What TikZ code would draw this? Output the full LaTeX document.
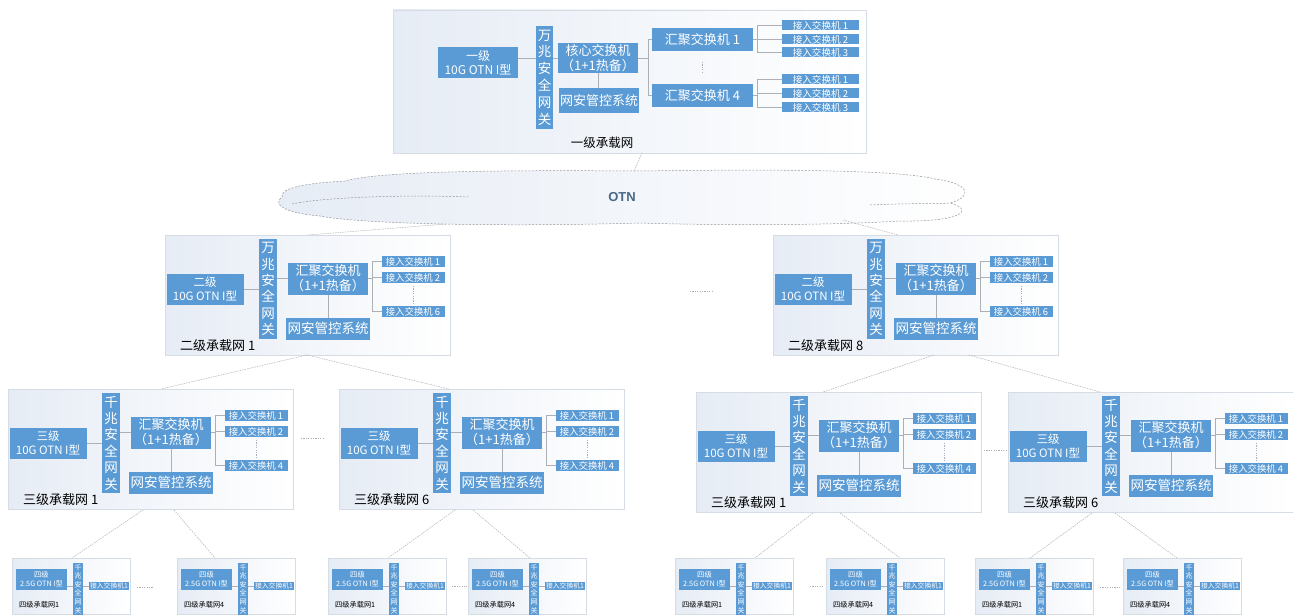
\documentclass[tikz,border=0pt]{standalone}
\usepackage{fontspec}
\setmainfont{Noto Sans CJK SC}
\newfontfamily\latf{Liberation Sans}
\definecolor{bbox}{RGB}{91,155,213}
\definecolor{lnc}{RGB}{172,176,182}
\definecolor{contl}{RGB}{230,236,245}
\definecolor{contb}{RGB}{214,220,228}
\definecolor{otnc}{RGB}{72,104,134}
\newcommand{\fsz}[2]{\fontsize{#1}{#2}\selectfont}
\begin{document}
\begin{tikzpicture}[x=1pt,y=-1pt,
  bx/.style={fill=bbox, text=white, inner sep=0pt, outer sep=0pt, align=center},
  cont/.style={draw=contb, line width=0.6pt, left color=contl, right color=white, inner sep=0pt, outer sep=0pt},
  lk/.style={draw=lnc, line width=0.6pt},
  dl/.style={draw=lnc, line width=0.6pt, dash pattern=on 1.2pt off 1.2pt},
  lvl/.style={draw=lnc, line width=0.5pt, dash pattern=on 1.5pt off 1pt},
  lab/.style={text=black, inner sep=0pt, anchor=west},
  pics/blk/.style n args={4}{code={
    \node[cont, minimum width=285, minimum height=120, anchor=north west] (-c) at (0,0) {};
    \node[bx, minimum width=77, minimum height=31, font=\fsz{11.5}{14}] (-lv) at (40,54) {#1\\10G OTN I型};
    \node[bx, minimum width=18, minimum height=100, font=\fsz{13.5}{16.4}] (-gw) at (103,54) {#2\\兆\\安\\全\\网\\关};
    \node[bx, minimum width=80, minimum height=32, font=\fsz{13}{15}] (-hj) at (163,43.5) {汇聚交换机\\（1+1热备）};
    \node[bx, minimum width=84, minimum height=22, font=\fsz{13.5}{15}] (-wa) at (163,93.5) {网安管控系统};
    \node[bx, minimum width=63, minimum height=11, font=\fsz{9.4}{10}] (-a1) at (248,26.5) {接入交换机 1};
    \node[bx, minimum width=63, minimum height=11, font=\fsz{9.4}{10}] (-a2) at (248,42.5) {接入交换机 2};
    \node[bx, minimum width=63, minimum height=11, font=\fsz{9.4}{10}] (-a3) at (248,76.5) {接入交换机 #3};
    \node[lab, font=\fsz{13}{14}] (-lb) at (15,111) {#4};
    \coordinate (-b1) at (207,26.5);
    \coordinate (-b2) at (207,76.5);
    \draw[lk] (-lv.east) -- (-gw.west);
    \draw[lk] (-gw.east |- -hj.west) -- (-hj.west);
    \draw[lk] (-hj.south) -- (-wa.north);
    \draw[lk] (-hj.east) -- (-b1 |- -hj.east);
    \draw[lk] (-b1) -- (-b2);
    \draw[lk] (-b1) -- (-a1.west);
    \draw[lk] (-b1 |- -a2.west) -- (-a2.west);
    \draw[lk] (-b2) -- (-a3.west);
    \draw[dl] ([yshift=-3pt]-a2.south) -- ([yshift=3pt]-a3.north);
  }},
  pics/lfour/.style={code={
    \node[cont, minimum width=118, minimum height=56, anchor=north west] (-c) at (0,0) {};
    \node[bx, minimum width=51, minimum height=21, font=\fsz{7.3}{9}] (-lv) at (29.5,21.5) {四级\\2.5G OTN I型};
    \node[bx, minimum width=10, minimum height=52, font=\fsz{7}{8.6}] (-gw) at (66,31) {千\\兆\\安\\全\\网\\关};
    \node[bx, minimum width=40, minimum height=8.5, font=\fsz{6.8}{7}] (-a1) at (97,28) {接入交换机1};
    \node[lab, font=\fsz{7.2}{8}] (-lb) at (7,47) {#1};
    \draw[lk] (-lv.east |- -a1.west) -- (-gw.west |- -a1.west);
    \draw[lk] (-gw.east |- -a1.west) -- (-a1.west);
  }}
]
\fill[white] (0,0) rectangle (1293,615);
\useasboundingbox (0,0) rectangle (1293,615);

% ---------- level 1 ----------
\node[cont, minimum width=473, minimum height=143, anchor=north west] (L1) at (393,10) {};
\node[bx, minimum width=80, minimum height=31, font=\fsz{12}{14.5}] (L1lv) at (478,62.5) {一级\\10G OTN I型};
\node[bx, minimum width=17, minimum height=103, font=\fsz{13.5}{16.8}] (L1gw) at (544.5,77.5) {万\\兆\\安\\全\\网\\关};
\node[bx, minimum width=80, minimum height=30, font=\fsz{13}{14.5}] (L1core) at (598,58) {核心交换机\\（1+1热备）};
\node[bx, minimum width=80, minimum height=25, font=\fsz{13}{14}] (L1wa) at (599,100.5) {网安管控系统};
\node[bx, minimum width=101, minimum height=23, font=\fsz{13}{14}] (L1h1) at (702.5,39.5) {汇聚交换机 1};
\node[bx, minimum width=101, minimum height=23, font=\fsz{13}{14}] (L1h4) at (702.5,95.5) {汇聚交换机 4};
\node[bx, minimum width=77, minimum height=10, font=\fsz{9.6}{10}] (L1a1) at (820.5,25.5) {接入交换机 1};
\node[bx, minimum width=77, minimum height=10, font=\fsz{9.6}{10}] (L1a2) at (820.5,39.5) {接入交换机 2};
\node[bx, minimum width=77, minimum height=10, font=\fsz{9.6}{10}] (L1a3) at (820.5,52.5) {接入交换机 3};
\node[bx, minimum width=77, minimum height=10, font=\fsz{9.6}{10}] (L1b1) at (820.5,79.5) {接入交换机 1};
\node[bx, minimum width=77, minimum height=10, font=\fsz{9.6}{10}] (L1b2) at (820.5,93.5) {接入交换机 2};
\node[bx, minimum width=77, minimum height=10, font=\fsz{9.6}{10}] (L1b3) at (820.5,107.5) {接入交换机 3};
\node[text=black, inner sep=0pt, font=\fsz{12.5}{14}] (L1lb) at (602,143) {一级承载网};
\coordinate (L1j) at (648,58);
\coordinate (L1u) at (757,25.5);
\coordinate (L1v) at (757,52.5);
\coordinate (L1w) at (757,79.5);
\coordinate (L1x) at (757,107.5);
\draw[lk] (L1lv.east |- L1core.west) -- (L1gw.west |- L1core.west);
\draw[lk] (L1gw.east |- L1core.west) -- (L1core.west);
\draw[lk] (L1core.south) -- (L1wa.north -| L1core.south);
\draw[lk] (L1core.east) -- (L1j);
\draw[lk] (L1j |- L1h1.west) -- (L1j |- L1h4.west);
\draw[lk] (L1j |- L1h1.west) -- (L1h1.west);
\draw[lk] (L1j |- L1h4.west) -- (L1h4.west);
\draw[dl] ([yshift=-11pt]L1h1.south) -- ([yshift=12pt]L1h4.north);
\draw[lk] (L1u) -- (L1v);
\draw[lk] (L1w) -- (L1x);
\draw[lk] (L1h1.east) -- (L1u |- L1h1.east);
\draw[lk] (L1h4.east) -- (L1w |- L1h4.east);
\draw[lk] (L1u) -- (L1a1.west);
\draw[lk] (L1u |- L1a2.west) -- (L1a2.west);
\draw[lk] (L1v) -- (L1a3.west);
\draw[lk] (L1w) -- (L1b1.west);
\draw[lk] (L1w |- L1b2.west) -- (L1b2.west);
\draw[lk] (L1x) -- (L1b3.west);

% ---------- OTN cloud ----------
\path[draw=lnc!85!black, line width=0.5pt, dash pattern=on 2pt off 1.5pt, left color=contl, right color=white]
  (282,197) .. controls (280,187) and (310,183) .. (345,181)
  .. controls (380,171) and (500,170) .. (640,171)
  .. controls (780,169) and (900,170) .. (935,179)
  .. controls (968,183) and (975,196) .. (950,203)
  .. controls (975,210) and (962,222) .. (900,221)
  .. controls (820,226) and (700,225) .. (640,223)
  .. controls (500,227) and (360,224) .. (320,216)
  .. controls (284,213) and (272,204) .. (282,197) -- cycle;
\draw[lnc!85!black, line width=0.5pt, dash pattern=on 2pt off 1.5pt]
  (292,204) .. controls (330,196) and (420,195) .. (470,197);
\draw[lnc!85!black, line width=0.5pt, dash pattern=on 2pt off 1.5pt]
  (870,205) .. controls (910,203) and (940,204) .. (950,203);
\node[text=otnc, inner sep=0pt, font=\latf\bfseries\fsz{13}{14}] (otn) at (622,197) {OTN};

% ---------- level 2 ----------
\pic (L2a) at (165,235) {blk={二级}{万}{6}{二级承载网 1}};
\pic (L2b) at (773,235) {blk={二级}{万}{6}{二级承载网 8}};

% ---------- level 3 ----------
\pic (L3a) at (8,389) {blk={三级}{千}{4}{三级承载网 1}};
\pic (L3b) at (339,389) {blk={三级}{千}{4}{三级承载网 6}};
\pic (L3c) at (696,392) {blk={三级}{千}{4}{三级承载网 1}};
\pic (L3d) at (1008,392) {blk={三级}{千}{4}{三级承载网 6}};

% ---------- level 4 ----------
\pic (L4a) at (12,558) {lfour={四级承载网1}};
\pic (L4b) at (177,558) {lfour={四级承载网4}};
\pic (L4c) at (328,558) {lfour={四级承载网1}};
\pic (L4d) at (468,558) {lfour={四级承载网4}};
\pic (L4e) at (675,558) {lfour={四级承载网1}};
\pic (L4f) at (826,558) {lfour={四级承载网4}};
\pic (L4g) at (975,558) {lfour={四级承载网1}};
\pic (L4h) at (1123,558) {lfour={四级承载网4}};

% ---------- links between levels ----------
\coordinate (k1) at (642,153);   \coordinate (k2) at (634,171.5);
\coordinate (k3) at (446,224);   \coordinate (k4) at (308,235);
\coordinate (k5) at (843,220);   \coordinate (k6) at (898,235);
\coordinate (m1) at (307,355);   \coordinate (m2) at (161,389);  \coordinate (m3) at (449,389);
\coordinate (m4) at (934,355);   \coordinate (m5) at (823,392);
\coordinate (m6) at (969,355);   \coordinate (m7) at (1100,392);
\coordinate (n1) at (143,510);   \coordinate (n2) at (72,558);
\coordinate (n3) at (174,510);   \coordinate (n4) at (215,558);
\coordinate (n5) at (455,510);   \coordinate (n6) at (388,558);
\coordinate (n7) at (473,510);   \coordinate (n8) at (530,558);
\coordinate (p1) at (813,513);   \coordinate (p2) at (755,558);
\coordinate (p3) at (840,513);   \coordinate (p4) at (900,558);
\coordinate (p5) at (1092,513);  \coordinate (p6) at (1030,558);
\coordinate (p7) at (1115,513);  \coordinate (p8) at (1177,558);
\draw[lvl] (k1) -- (k2);
\draw[lvl] (k3) -- (k4);
\draw[lvl] (k5) -- (k6);
\draw[lvl] (m1) -- (m2);
\draw[lvl] (m1) -- (m3);
\draw[lvl] (m4) -- (m5);
\draw[lvl] (m6) -- (m7);
\draw[lvl] (n1) -- (n2);
\draw[lvl] (n3) -- (n4);
\draw[lvl] (n5) -- (n6);
\draw[lvl] (n7) -- (n8);
\draw[lvl] (p1) -- (p2);
\draw[lvl] (p3) -- (p4);
\draw[lvl] (p5) -- (p6);
\draw[lvl] (p7) -- (p8);

% ---------- ellipsis dots between siblings ----------
\coordinate (e1) at (690,291);  \coordinate (e2) at (712,291);
\coordinate (e3) at (301,438);  \coordinate (e4) at (324,438);
\coordinate (e5) at (984,450);  \coordinate (e6) at (1006,450);
\coordinate (f1) at (137,587);  \coordinate (f2) at (153,587);
\coordinate (f3) at (452,586);  \coordinate (f4) at (467,586);
\coordinate (f5) at (810,586);  \coordinate (f6) at (823,586);
\coordinate (f7) at (1100,587); \coordinate (f8) at (1120,587);
\draw[dl] (e1) -- (e2);
\draw[dl] (e3) -- (e4);
\draw[dl] (e5) -- (e6);
\draw[dl] (f1) -- (f2);
\draw[dl] (f3) -- (f4);
\draw[dl] (f5) -- (f6);
\draw[dl] (f7) -- (f8);
\end{tikzpicture}
\end{document}
